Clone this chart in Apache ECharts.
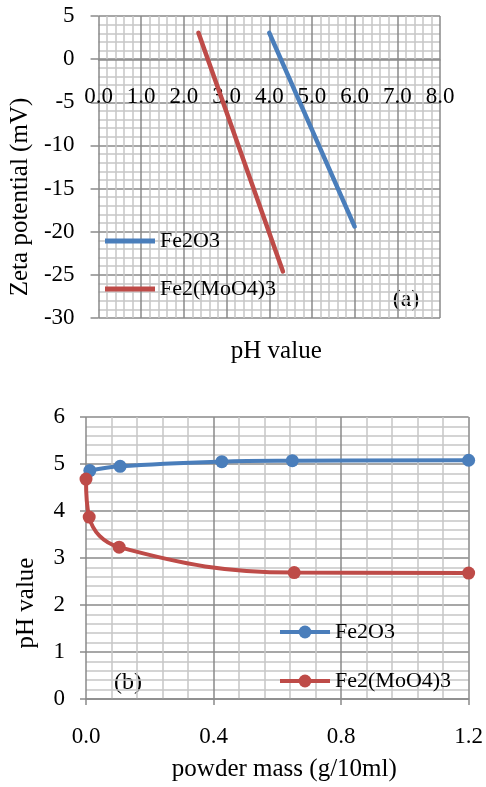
<!DOCTYPE html>
<html>
<head>
<meta charset="utf-8">
<script src="https://cdn.jsdelivr.net/npm/echarts@6/dist/echarts.min.js"></script>
<style>
  html, body { margin: 0; padding: 0; background: #fff; }
  #chart { width: 486px; height: 787px; }
</style>
</head>
<body>
<div id="chart"></div>
<script>
// Panel (a): zeta potential against pH
const zetaFe2O3 = [[4.0, 3.05], [6.0, -19.4]];
const zetaFeMo = [[2.34, 3.05], [4.32, -24.6]];

// Panel (b): suspension pH against powder mass
const massFe2O3 = [0.012, 0.107, 0.426, 0.647, 1.2];
const phFe2O3 = [4.86, 4.95, 5.05, 5.07, 5.08];
const massFeMo = [0, 0.01, 0.104, 0.653, 1.2];
const phFeMo = [4.68, 3.87, 3.23, 2.69, 2.68];

const compounds = ['Fe2O3', 'Fe2(MoO4)3'];
const panelTags = ['(a)', '(b)'];

const BLUE = '#4A7EBB';
const RED = '#BE4B48';
const FONT = "'Liberation Serif', 'Times New Roman', serif";
const MAJOR = '#8a8a8a';
const MINOR = '#c6c6c6';

const pairs = (xs, ys) => xs.map((x, i) => [x, ys[i]]);
const seriesName = (c, p) => c + ' ' + p;

const gridLines = {
  splitLine: { show: true, lineStyle: { color: MAJOR, width: 1.5 } },
  minorTick: { show: false, splitNumber: 5 },
  minorSplitLine: { show: true, lineStyle: { color: MINOR, width: 1.5 } }
};
const tickLabel = { color: '#000', fontSize: 23, fontFamily: FONT };
const titleText = { color: '#000', fontSize: 25, fontFamily: FONT };
const legendText = { color: '#000', fontSize: 22, fontFamily: FONT, lineHeight: 22 };

const chart = echarts.init(document.getElementById('chart'), null, { renderer: 'canvas' });

chart.setOption({
  animation: false,
  backgroundColor: '#fff',
  grid: [
    { left: 96, top: 16, width: 344, height: 302 },
    { left: 86, top: 417, width: 385, height: 282 }
  ],
  xAxis: [
    Object.assign({
      // the pH axis crosses the zeta axis at 0 mV
      type: 'value', gridIndex: 0, min: 0, max: 8, interval: 1,
      position: 'bottom', offset: -258,
      axisLine: { show: true, onZero: false, lineStyle: { color: MAJOR, width: 1.5 } },
      axisTick: { show: false },
      axisLabel: Object.assign({ margin: 25, formatter: v => v.toFixed(1) }, tickLabel),
      name: 'pH value', nameLocation: 'middle', nameGap: 279,
      nameTextStyle: Object.assign({ padding: [0, 0, 0, 14] }, titleText)
    }, gridLines),
    Object.assign({
      type: 'value', gridIndex: 1, min: 0, max: 1.2, interval: 0.4,
      axisLine: { show: true, onZero: false, lineStyle: { color: MAJOR, width: 1.5 } },
      axisTick: { show: true, length: 6, lineStyle: { color: MAJOR, width: 1.5 } },
      axisLabel: Object.assign({ margin: 26, formatter: v => v.toFixed(1) }, tickLabel),
      name: 'powder mass (g/10ml)', nameLocation: 'middle', nameGap: 58,
      nameTextStyle: Object.assign({ padding: [0, 0, 0, 14] }, titleText)
    }, gridLines)
  ],
  yAxis: [
    Object.assign({
      type: 'value', gridIndex: 0, min: -30, max: 5, interval: 5,
      axisLine: { show: false, onZero: false },
      axisTick: { show: true, length: 8, lineStyle: { color: MAJOR, width: 1.5 } },
      axisLabel: Object.assign({ margin: 24 }, tickLabel),
      name: 'Zeta potential (mV)', nameLocation: 'middle', nameGap: 61,
      nameTextStyle: Object.assign({ padding: [0, 60, 0, 0] }, titleText)
    }, gridLines),
    Object.assign({
      type: 'value', gridIndex: 1, min: 0, max: 6, interval: 1,
      axisLine: { show: false, onZero: false },
      axisTick: { show: true, length: 6, lineStyle: { color: MAJOR, width: 1.5 } },
      axisLabel: Object.assign({ margin: 21 }, tickLabel),
      name: 'pH value', nameLocation: 'middle', nameGap: 47,
      nameTextStyle: Object.assign({ padding: [0, 90, 0, 0] }, titleText)
    }, gridLines)
  ],
  legend: [
    {
      orient: 'vertical', left: 105, top: 230, padding: 0,
      itemWidth: 50, itemHeight: 5, itemGap: 26,
      data: compounds.map(c => ({ name: seriesName(c, panelTags[0]), icon: 'rect' })),
      formatter: n => n.slice(0, n.lastIndexOf(' ')),
      textStyle: legendText
    },
    {
      orient: 'vertical', left: 278, top: 621, padding: 0,
      itemWidth: 50, itemHeight: 16, itemGap: 27,
      lineStyle: { width: 4 },
      data: compounds.map(c => ({ name: seriesName(c, panelTags[1]), lineStyle: { width: 4 } })),
      formatter: n => n.slice(0, n.lastIndexOf(' ')),
      textStyle: legendText
    }
  ],
  graphic: [
    { type: 'text', x: 406, y: 300, style: { text: panelTags[0], fontSize: 24, fontFamily: FONT, fill: '#000', align: 'center', verticalAlign: 'middle' } },
    { type: 'text', x: 128, y: 683, style: { text: panelTags[1], fontSize: 24, fontFamily: FONT, fill: '#000', align: 'center', verticalAlign: 'middle' } }
  ],
  series: [
    {
      type: 'line', name: seriesName(compounds[0], panelTags[0]), xAxisIndex: 0, yAxisIndex: 0,
      data: zetaFe2O3, symbol: 'none', color: BLUE,
      lineStyle: { color: BLUE, width: 4.5, cap: 'round' }
    },
    {
      type: 'line', name: seriesName(compounds[1], panelTags[0]), xAxisIndex: 0, yAxisIndex: 0,
      data: zetaFeMo, symbol: 'none', color: RED,
      lineStyle: { color: RED, width: 4.5, cap: 'round' }
    },
    {
      type: 'line', name: seriesName(compounds[0], panelTags[1]), xAxisIndex: 1, yAxisIndex: 1,
      data: pairs(massFe2O3, phFe2O3), smooth: 0.4, symbol: 'circle', symbolSize: 13, color: BLUE,
      itemStyle: { color: BLUE }, lineStyle: { color: BLUE, width: 4 }
    },
    {
      type: 'line', name: seriesName(compounds[1], panelTags[1]), xAxisIndex: 1, yAxisIndex: 1,
      data: pairs(massFeMo, phFeMo), smooth: 0.4, symbol: 'circle', symbolSize: 13, color: RED,
      itemStyle: { color: RED }, lineStyle: { color: RED, width: 4 }
    }
  ]
});
</script>
</body>
</html>
